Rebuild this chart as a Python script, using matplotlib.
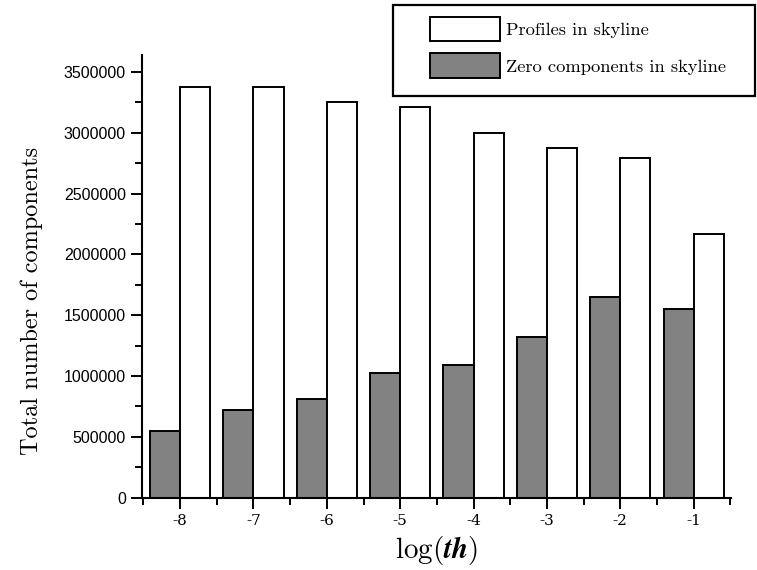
import matplotlib
matplotlib.use("Agg")
import matplotlib.pyplot as plt
from matplotlib.patches import Rectangle, Patch
from matplotlib.ticker import MultipleLocator
import numpy as np

# Data
log_th = [-8, -7, -6, -5, -4, -3, -2, -1]
profiles = [3373000, 3373000, 3255000, 3214000, 2995000, 2872000, 2795000, 2167000]
zeros = [549000, 720000, 808000, 1021000, 1087000, 1317000, 1651000, 1548000]
tick_labels = ["-8", "-7", "-6", "-5", "-4", "-3", "-2", "-1"]
legend_labels = ["Profiles in skyline", "Zero components in skyline"]

plt.rcParams['mathtext.fontset'] = 'cm'
W, H = 757, 570
fig = plt.figure(figsize=(W / 100, H / 100), dpi=100)
ax = fig.add_axes([142 / W, 1 - 497.5 / H, (731 - 142) / W, (497.5 - 55) / H])

x = np.array(log_th, dtype=float)
bw = 0.41
grey = '#828282'
ax.bar(x - bw / 2, zeros, width=bw, color=grey, edgecolor='black', linewidth=1.4)
ax.bar(x + bw / 2, profiles, width=bw, color='white', edgecolor='black', linewidth=1.4)

ax.set_xlim(-8.52, -0.49)
ax.set_ylim(0, 3640000)
ax.set_xticks(log_th)
ax.set_xticklabels(tick_labels, family='DejaVu Serif', fontsize=11)
ax.set_xticks(np.arange(-8.5, 0, 1.0), minor=True)
ax.yaxis.set_major_locator(MultipleLocator(500000))
ax.yaxis.set_minor_locator(MultipleLocator(250000))
ax.ticklabel_format(axis='y', style='plain')
for lab in ax.get_yticklabels():
    lab.set_family('Liberation Sans')
    lab.set_fontsize(11.5)

ax.tick_params(which='major', direction='out', length=8, width=1.4)
ax.tick_params(which='minor', direction='out', length=5, width=1.4)
ax.tick_params(axis='x', pad=4)
for s in ['top', 'right']:
    ax.spines[s].set_visible(False)
for s in ['left', 'bottom']:
    ax.spines[s].set_linewidth(1.5)

ax.set_ylabel("Total number of components", family='cmr10', fontsize=17.5)
ax.yaxis.set_label_coords((43 - 142) / 589, (497.5 - 301) / 442.5)
ax.set_xlabel(r"$\log(\mathbfit{th})$", fontsize=21, labelpad=4)

handles = [Patch(facecolor='white', edgecolor='black', linewidth=1.4),
           Patch(facecolor=grey, edgecolor='black', linewidth=1.4)]
fig.legend(handles, legend_labels, loc='upper left',
           bbox_to_anchor=(430 / W, 1 - 17 / H), frameon=False,
           prop={'family': 'cmr10', 'size': 13.3}, borderpad=0, borderaxespad=0,
           handlelength=3.8, handleheight=1.65, handletextpad=0.3, labelspacing=0.65)
fig.patches.append(Rectangle((393 / W, 1 - 96 / H), (755 - 393) / W, (96 - 5) / H,
                             transform=fig.transFigure, fill=False,
                             edgecolor='black', linewidth=1.6))

fig.savefig("out.png", dpi=100)
